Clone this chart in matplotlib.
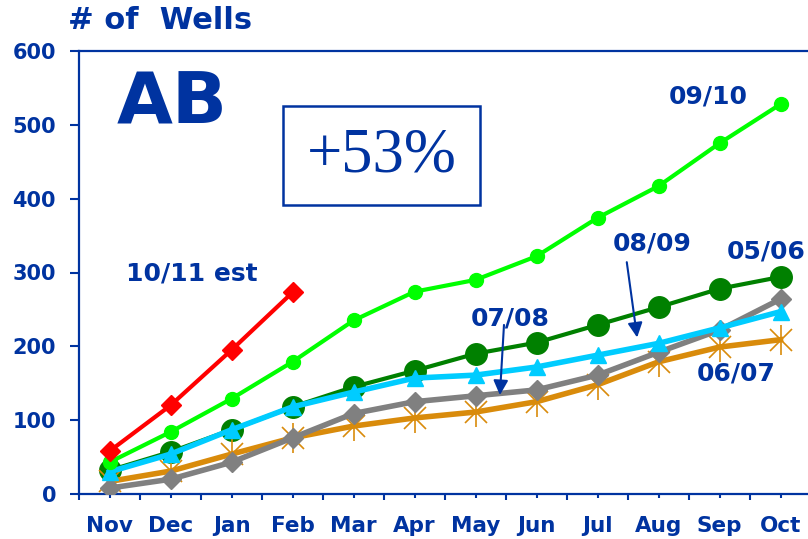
import matplotlib.pyplot as plt
import numpy as np
from matplotlib.patches import Rectangle

months = ['Nov', 'Dec', 'Jan', 'Feb', 'Mar', 'Apr', 'May', 'Jun', 'Jul', 'Aug', 'Sep', 'Oct']
s0506 = [32, 57, 87, 118, 145, 167, 190, 205, 229, 253, 278, 294]
s0607 = [17, 31, 54, 76, 92, 103, 111, 125, 148, 179, 199, 209]
s0708 = [8, 20, 43, 76, 109, 125, 133, 141, 161, 192, 222, 264]
s0809 = [30, 54, 87, 118, 138, 157, 161, 172, 188, 204, 225, 247]
s0910 = [43, 84, 129, 179, 235, 274, 290, 322, 374, 417, 475, 528]
s1011 = [58, 120, 195, 273]

blue = '#0033A0'
x = np.arange(len(months))

fig = plt.figure(figsize=(8.08, 5.39), dpi=100)
ax = fig.add_axes([79 / 808, 45 / 539, 732 / 808, 443 / 539])

ax.plot(x, s0506, color='#008000', lw=3, marker='o', ms=15.5, zorder=3)
orange = '#D98B0B'
ax.plot(x, s0607, color=orange, lw=4, zorder=4)
ax.plot(x, s0607, ls='none', marker='x', ms=16, mew=1.2, color=orange, zorder=4)
ax.plot(x, s0607, ls='none', marker='|', ms=22, mew=1.2, color=orange, zorder=4)
ax.plot(x, s0708, color='#808080', lw=4, marker='D', ms=10, zorder=5)
ax.plot(x, s0809, color='#00CCFF', lw=4, marker='^', ms=12, zorder=6)
ax.plot(x, s0910, color='#00FF00', lw=3, marker='o', ms=10, zorder=7)
ax.plot(x[:len(s1011)], s1011, color='#FF0000', lw=3, marker='D', ms=10, zorder=8)

ax.set_xlim(-0.5, 11.5)
ax.set_ylim(0, 600)
ax.set_yticks(range(0, 601, 100))
ax.set_xticks(x)
ax.set_xticklabels(months)
ax.set_xticks(np.arange(-0.5, 12, 1), minor=True)

for sp in ax.spines.values():
    sp.set_color(blue)
    sp.set_linewidth(1.6)
ax.tick_params(axis='y', colors=blue, length=6.5, width=1.5, pad=10, labelsize=15)
ax.tick_params(axis='x', which='major', colors=blue, length=3, width=1.5, pad=13, labelsize=15.5)
ax.tick_params(axis='x', which='minor', colors=blue, length=4.5, width=1.5)
for lab in ax.get_xticklabels() + ax.get_yticklabels():
    lab.set_fontweight('bold')

fig.text(68 / 808, 1 - 29 / 539, '# of  Wells', color=blue, fontsize=22, fontweight='bold',
         ha='left', va='baseline')

ax.text(1.02, 528, 'AB', color=blue, fontsize=52, fontweight='bold', ha='center', va='center')
ax.add_patch(Rectangle((2.844, 391.4), 3.23, 134.1, fill=False, edgecolor=blue, lw=1.8, zorder=9))
ax.text(4.46, 457, '+53%', color=blue, fontsize=45, family='Liberation Serif',
        ha='center', va='center', zorder=9)

lab_kw = dict(color=blue, fontsize=18, fontweight='bold', ha='center', va='center', zorder=10)
ax.text(1.35, 299, '10/11 est', **lab_kw)
ax.text(9.81, 539, '09/10', **lab_kw)
ax.text(8.89, 339, '08/09', **lab_kw)
ax.text(10.76, 329, '05/06', **lab_kw)
ax.text(10.27, 163, '06/07', **lab_kw)
ax.text(6.57, 238, '07/08', **lab_kw)

arrow = dict(arrowstyle='-|>', color=blue, lw=1.5, mutation_scale=22, shrinkA=0, shrinkB=0)
ax.annotate('', xy=(6.40, 134), xytext=(6.467, 229), arrowprops=arrow, zorder=10)
ax.annotate('', xy=(8.65, 212), xytext=(8.48, 314), arrowprops=arrow, zorder=10)

fig.savefig('out.png', dpi=100)
